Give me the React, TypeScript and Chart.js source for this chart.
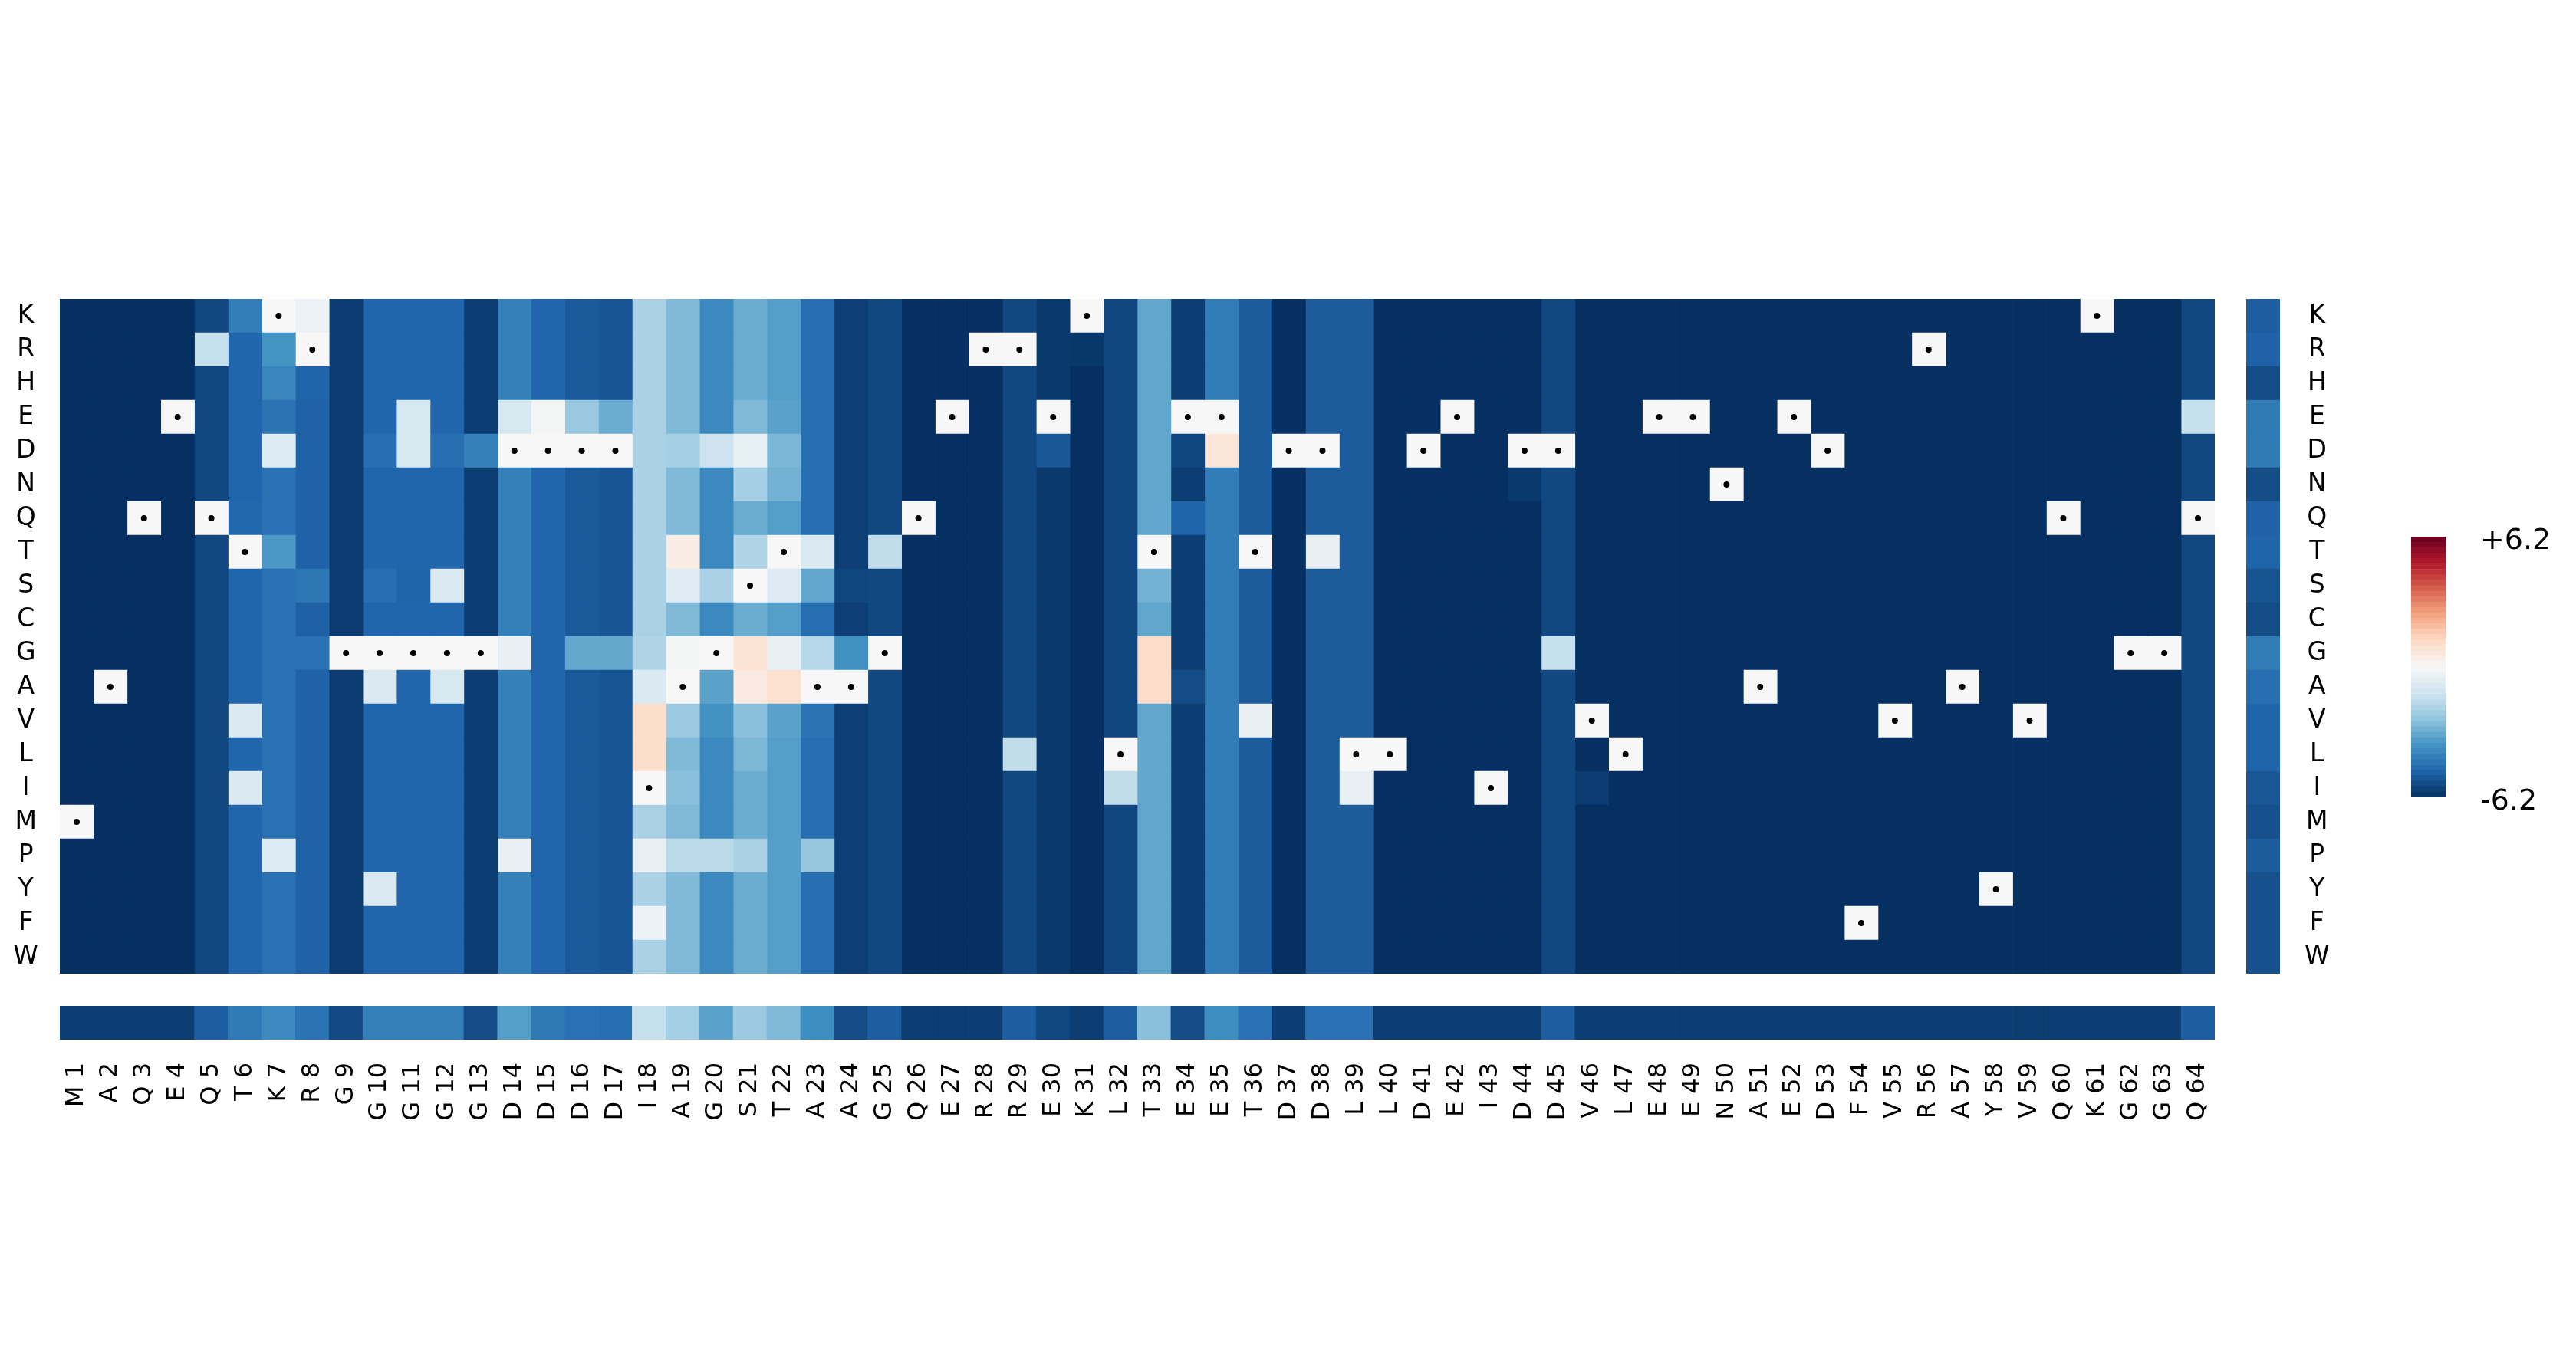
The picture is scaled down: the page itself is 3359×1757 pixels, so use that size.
import React, { useEffect, useRef } from 'react';
import { Chart, registerables } from 'chart.js';

Chart.register(...registerables);

// ---------- data ----------
const aminoAcids = ['K', 'R', 'H', 'E', 'D', 'N', 'Q', 'T', 'S', 'C', 'G', 'A', 'V', 'L', 'I', 'M', 'P', 'Y', 'F', 'W'];

const wildType = [
  'M', 'A', 'Q', 'E', 'Q', 'T', 'K', 'R', 'G', 'G', 'G', 'G', 'G', 'D', 'D', 'D', 'D', 'I', 'A', 'G',
  'S', 'T', 'A', 'A', 'G', 'Q', 'E', 'R', 'R', 'E', 'K', 'L', 'T', 'E', 'E', 'T', 'D', 'D', 'L', 'L',
  'D', 'E', 'I', 'D', 'D', 'V', 'L', 'E', 'E', 'N', 'A', 'E', 'D', 'F', 'V', 'R', 'A', 'Y', 'V', 'Q',
  'K', 'G', 'G', 'Q',
];

// scores per position, rows in aminoAcids order: K R H E D N Q T S C G A V L I M P Y F W
const s01 = [-6.2, -6.2, -6.2, -6.2, -6.2, -6.2, -6.2, -6.2, -6.2, -6.2, -6.2, -6.2, -6.2, -6.2, -6.2, 0, -6.2, -6.2, -6.2, -6.2];
const s02 = [-6.2, -6.2, -6.2, -6.2, -6.2, -6.2, -6.2, -6.2, -6.2, -6.2, -6.2, 0, -6.2, -6.2, -6.2, -6.2, -6.2, -6.2, -6.2, -6.2];
const s03 = [-6.2, -6.2, -6.2, -6.2, -6.2, -6.2, 0, -6.2, -6.2, -6.2, -6.2, -6.2, -6.2, -6.2, -6.2, -6.2, -6.2, -6.2, -6.2, -6.2];
const s04 = [-6.2, -6.2, -6.2, 0, -6.2, -6.2, -6.2, -6.2, -6.2, -6.2, -6.2, -6.2, -6.2, -6.2, -6.2, -6.2, -6.2, -6.2, -6.2, -6.2];
const s05 = [-5.65, -1.45, -5.65, -5.65, -5.65, -5.65, 0, -5.65, -5.65, -5.65, -5.65, -5.65, -5.65, -5.65, -5.65, -5.65, -5.65, -5.65, -5.65, -5.65];
const s06 = [-4.3, -4.95, -4.95, -4.95, -4.95, -4.95, -4.9, 0, -4.95, -4.95, -4.95, -4.95, -0.9, -4.95, -0.9, -4.95, -4.95, -4.95, -4.95, -4.95];
const s07 = [0, -3.7, -4.1, -4.6, -0.85, -4.65, -4.65, -3.6, -4.65, -4.65, -4.65, -4.65, -4.65, -4.65, -4.65, -4.65, -0.85, -4.65, -4.65, -4.65];
const s08 = [-0.35, 0, -5.0, -5.05, -5.05, -5.05, -5.05, -5.05, -4.5, -5.1, -4.65, -5.05, -5.05, -5.05, -5.05, -5.05, -5.05, -5.05, -5.05, -5.05];
const s09 = [-5.95, -5.95, -5.95, -5.95, -5.95, -5.95, -5.95, -5.95, -5.95, -5.95, 0, -5.95, -5.95, -5.95, -5.95, -5.95, -5.95, -5.95, -5.95, -5.95];
const s10 = [-4.95, -4.95, -4.95, -4.95, -4.7, -4.95, -4.95, -4.95, -4.7, -4.95, 0, -0.95, -4.95, -4.95, -4.95, -4.95, -4.95, -0.9, -4.95, -4.95];
const s11 = [-4.95, -4.95, -4.95, -1.05, -1.05, -4.95, -4.95, -4.95, -5.0, -4.95, 0, -4.95, -4.95, -4.95, -4.95, -4.95, -4.95, -4.95, -4.95, -4.95];
const s12 = [-4.95, -4.95, -4.95, -4.95, -4.7, -4.95, -4.95, -4.95, -0.95, -4.95, 0, -1.0, -4.95, -4.95, -4.95, -4.95, -4.95, -4.95, -4.95, -4.95];
const s13 = [-5.9, -5.9, -5.9, -5.9, -4.25, -5.9, -5.9, -5.9, -5.9, -5.9, 0, -5.9, -5.9, -5.9, -5.9, -5.9, -5.9, -5.9, -5.9, -5.9];
const s14 = [-4.25, -4.25, -4.25, -1.05, 0, -4.25, -4.25, -4.25, -4.25, -4.25, -0.5, -4.25, -4.25, -4.25, -4.25, -4.25, -0.45, -4.25, -4.25, -4.25];
const s15 = [-4.95, -4.95, -4.95, -0.1, 0, -4.95, -4.95, -4.95, -4.95, -4.95, -4.95, -4.95, -4.95, -4.95, -4.95, -4.95, -4.95, -4.95, -4.95, -4.95];
const s16 = [-5.25, -5.25, -5.25, -2.35, 0, -5.25, -5.25, -5.25, -5.25, -5.25, -3.2, -5.25, -5.25, -5.25, -5.25, -5.25, -5.25, -5.25, -5.25, -5.25];
const s17 = [-5.35, -5.35, -5.35, -3.1, 0, -5.35, -5.35, -5.35, -5.35, -5.35, -3.2, -5.35, -5.35, -5.35, -5.35, -5.35, -5.35, -5.35, -5.35, -5.35];
const s18 = [-2.0, -2.0, -2.0, -2.0, -2.0, -2.0, -2.0, -2.0, -2.0, -2.0, -1.9, -0.9, 1.1, 1.1, 0, -2.0, -0.45, -2.0, -0.35, -2.0];
const s19 = [-2.75, -2.75, -2.75, -2.75, -2.1, -2.75, -2.75, 0.5, -0.75, -2.75, -0.1, 0, -2.3, -2.75, -2.6, -2.75, -1.7, -2.75, -2.75, -2.75];
const s20 = [-4.0, -4.0, -4.0, -4.0, -1.3, -4.0, -4.0, -4.0, -2.0, -4.0, 0, -3.35, -3.75, -4.0, -4.0, -4.0, -1.7, -4.0, -4.0, -4.0];
const s21 = [-3.1, -3.1, -3.1, -2.75, -0.55, -2.1, -3.1, -1.9, 0, -3.1, 0.85, 0.6, -2.6, -2.8, -3.1, -3.1, -2.0, -3.1, -3.1, -3.1];
const s22 = [-3.45, -3.45, -3.45, -3.35, -2.85, -2.95, -3.45, 0, -0.8, -3.45, -0.45, 1.0, -3.35, -3.45, -3.45, -3.45, -3.45, -3.45, -3.45, -3.45];
const s23 = [-4.7, -4.7, -4.7, -4.7, -4.7, -4.7, -4.7, -0.95, -3.25, -4.75, -1.8, 0, -4.6, -4.7, -4.7, -4.7, -2.4, -4.7, -4.7, -4.7];
const s24 = [-5.85, -5.85, -5.85, -5.85, -5.85, -5.85, -5.85, -5.85, -5.7, -5.85, -3.8, 0, -5.85, -5.85, -5.85, -5.85, -5.85, -5.85, -5.85, -5.85];
const s25 = [-5.65, -5.65, -5.65, -5.65, -5.65, -5.65, -5.65, -1.55, -5.65, -5.65, 0, -5.65, -5.65, -5.65, -5.65, -5.65, -5.65, -5.65, -5.65, -5.65];
const s26 = [-6.2, -6.2, -6.2, -6.2, -6.2, -6.2, 0, -6.2, -6.2, -6.2, -6.2, -6.2, -6.2, -6.2, -6.2, -6.2, -6.2, -6.2, -6.2, -6.2];
const s27 = [-6.2, -6.2, -6.2, 0, -6.2, -6.2, -6.2, -6.2, -6.2, -6.2, -6.2, -6.2, -6.2, -6.2, -6.2, -6.2, -6.2, -6.2, -6.2, -6.2];
const s28 = [-6.2, 0, -6.2, -6.2, -6.2, -6.2, -6.2, -6.2, -6.2, -6.2, -6.2, -6.2, -6.2, -6.2, -6.2, -6.2, -6.2, -6.2, -6.2, -6.2];
const s29 = [-5.65, 0, -5.65, -5.65, -5.65, -5.65, -5.65, -5.65, -5.65, -5.65, -5.65, -5.65, -5.65, -1.55, -5.65, -5.65, -5.65, -5.65, -5.65, -5.65];
const s30 = [-6.0, -6.0, -6.0, 0, -5.3, -6.0, -6.0, -6.0, -6.0, -6.0, -6.0, -6.0, -6.0, -6.0, -6.0, -6.0, -6.0, -6.0, -6.0, -6.0];
const s31 = [0, -6.05, -6.2, -6.2, -6.2, -6.2, -6.2, -6.2, -6.2, -6.2, -6.2, -6.2, -6.2, -6.2, -6.2, -6.2, -6.2, -6.2, -6.2, -6.2];
const s32 = [-5.7, -5.7, -5.7, -5.7, -5.7, -5.7, -5.7, -5.7, -5.7, -5.7, -5.7, -5.7, -5.7, 0, -1.55, -5.7, -5.7, -5.7, -5.7, -5.7];
const s33 = [-3.25, -3.25, -3.25, -3.25, -3.25, -3.25, -3.25, 0, -2.95, -3.25, 1.2, 1.2, -3.25, -3.25, -3.25, -3.25, -3.25, -3.25, -3.25, -3.25];
const s34 = [-5.9, -5.9, -5.9, 0, -5.7, -5.9, -5.0, -5.9, -5.9, -5.9, -5.9, -5.55, -5.9, -5.9, -5.9, -5.9, -5.9, -5.9, -5.9, -5.9];
const s35 = [-4.35, -4.35, -4.35, 0, 0.8, -4.35, -4.35, -4.35, -4.35, -4.35, -4.35, -4.35, -4.35, -4.35, -4.35, -4.35, -4.35, -4.35, -4.35, -4.35];
const s36 = [-5.2, -5.2, -5.2, -5.2, -5.2, -5.2, -5.2, 0, -5.2, -5.2, -5.2, -5.2, -0.5, -5.2, -5.2, -5.2, -5.2, -5.2, -5.2, -5.2];
const s37 = [-6.2, -6.2, -6.2, -6.2, 0, -6.2, -6.2, -6.2, -6.2, -6.2, -6.2, -6.2, -6.2, -6.2, -6.2, -6.2, -6.2, -6.2, -6.2, -6.2];
const s38 = [-5.2, -5.2, -5.2, -5.2, 0, -5.2, -5.2, -0.5, -5.2, -5.2, -5.2, -5.2, -5.2, -5.2, -5.2, -5.2, -5.2, -5.2, -5.2, -5.2];
const s39 = [-5.2, -5.2, -5.2, -5.2, -5.2, -5.2, -5.2, -5.2, -5.2, -5.2, -5.2, -5.2, -5.2, 0, -0.5, -5.2, -5.2, -5.2, -5.2, -5.2];
const s40 = [-6.2, -6.2, -6.2, -6.2, -6.2, -6.2, -6.2, -6.2, -6.2, -6.2, -6.2, -6.2, -6.2, 0, -6.2, -6.2, -6.2, -6.2, -6.2, -6.2];
const s41 = [-6.2, -6.2, -6.2, -6.2, 0, -6.2, -6.2, -6.2, -6.2, -6.2, -6.2, -6.2, -6.2, -6.2, -6.2, -6.2, -6.2, -6.2, -6.2, -6.2];
const s42 = [-6.2, -6.2, -6.2, 0, -6.2, -6.2, -6.2, -6.2, -6.2, -6.2, -6.2, -6.2, -6.2, -6.2, -6.2, -6.2, -6.2, -6.2, -6.2, -6.2];
const s43 = [-6.2, -6.2, -6.2, -6.2, -6.2, -6.2, -6.2, -6.2, -6.2, -6.2, -6.2, -6.2, -6.2, -6.2, 0, -6.2, -6.2, -6.2, -6.2, -6.2];
const s44 = [-6.2, -6.2, -6.2, -6.2, 0, -6.0, -6.2, -6.2, -6.2, -6.2, -6.2, -6.2, -6.2, -6.2, -6.2, -6.2, -6.2, -6.2, -6.2, -6.2];
const s45 = [-5.65, -5.65, -5.65, -5.65, 0, -5.65, -5.65, -5.65, -5.65, -5.65, -1.45, -5.65, -5.65, -5.65, -5.65, -5.65, -5.65, -5.65, -5.65, -5.65];
const s46 = [-6.2, -6.2, -6.2, -6.2, -6.2, -6.2, -6.2, -6.2, -6.2, -6.2, -6.2, -6.2, 0, -6.2, -5.95, -6.2, -6.2, -6.2, -6.2, -6.2];
const s47 = [-6.2, -6.2, -6.2, -6.2, -6.2, -6.2, -6.2, -6.2, -6.2, -6.2, -6.2, -6.2, -6.2, 0, -6.2, -6.2, -6.2, -6.2, -6.2, -6.2];
const s48 = [-6.2, -6.2, -6.2, 0, -6.2, -6.2, -6.2, -6.2, -6.2, -6.2, -6.2, -6.2, -6.2, -6.2, -6.2, -6.2, -6.2, -6.2, -6.2, -6.2];
const s49 = [-6.2, -6.2, -6.2, 0, -6.2, -6.2, -6.2, -6.2, -6.2, -6.2, -6.2, -6.2, -6.2, -6.2, -6.2, -6.2, -6.2, -6.2, -6.2, -6.2];
const s50 = [-6.2, -6.2, -6.2, -6.2, -6.2, 0, -6.2, -6.2, -6.2, -6.2, -6.2, -6.2, -6.2, -6.2, -6.2, -6.2, -6.2, -6.2, -6.2, -6.2];
const s51 = [-6.2, -6.2, -6.2, -6.2, -6.2, -6.2, -6.2, -6.2, -6.2, -6.2, -6.2, 0, -6.2, -6.2, -6.2, -6.2, -6.2, -6.2, -6.2, -6.2];
const s52 = [-6.2, -6.2, -6.2, 0, -6.2, -6.2, -6.2, -6.2, -6.2, -6.2, -6.2, -6.2, -6.2, -6.2, -6.2, -6.2, -6.2, -6.2, -6.2, -6.2];
const s53 = [-6.2, -6.2, -6.2, -6.2, 0, -6.2, -6.2, -6.2, -6.2, -6.2, -6.2, -6.2, -6.2, -6.2, -6.2, -6.2, -6.2, -6.2, -6.2, -6.2];
const s54 = [-6.2, -6.2, -6.2, -6.2, -6.2, -6.2, -6.2, -6.2, -6.2, -6.2, -6.2, -6.2, -6.2, -6.2, -6.2, -6.2, -6.2, -6.2, 0, -6.2];
const s55 = [-6.2, -6.2, -6.2, -6.2, -6.2, -6.2, -6.2, -6.2, -6.2, -6.2, -6.2, -6.2, 0, -6.2, -6.2, -6.2, -6.2, -6.2, -6.2, -6.2];
const s56 = [-6.2, 0, -6.2, -6.2, -6.2, -6.2, -6.2, -6.2, -6.2, -6.2, -6.2, -6.2, -6.2, -6.2, -6.2, -6.2, -6.2, -6.2, -6.2, -6.2];
const s57 = [-6.2, -6.2, -6.2, -6.2, -6.2, -6.2, -6.2, -6.2, -6.2, -6.2, -6.2, 0, -6.2, -6.2, -6.2, -6.2, -6.2, -6.2, -6.2, -6.2];
const s58 = [-6.2, -6.2, -6.2, -6.2, -6.2, -6.2, -6.2, -6.2, -6.2, -6.2, -6.2, -6.2, -6.2, -6.2, -6.2, -6.2, -6.2, 0, -6.2, -6.2];
const s59 = [-6.2, -6.2, -6.2, -6.2, -6.2, -6.2, -6.2, -6.2, -6.2, -6.2, -6.2, -6.2, 0, -6.2, -6.2, -6.2, -6.2, -6.2, -6.2, -6.2];
const s60 = [-6.2, -6.2, -6.2, -6.2, -6.2, -6.2, 0, -6.2, -6.2, -6.2, -6.2, -6.2, -6.2, -6.2, -6.2, -6.2, -6.2, -6.2, -6.2, -6.2];
const s61 = [0, -6.2, -6.2, -6.2, -6.2, -6.2, -6.2, -6.2, -6.2, -6.2, -6.2, -6.2, -6.2, -6.2, -6.2, -6.2, -6.2, -6.2, -6.2, -6.2];
const s62 = [-6.2, -6.2, -6.2, -6.2, -6.2, -6.2, -6.2, -6.2, -6.2, -6.2, 0, -6.2, -6.2, -6.2, -6.2, -6.2, -6.2, -6.2, -6.2, -6.2];
const s63 = [-6.2, -6.2, -6.2, -6.2, -6.2, -6.2, -6.2, -6.2, -6.2, -6.2, 0, -6.2, -6.2, -6.2, -6.2, -6.2, -6.2, -6.2, -6.2, -6.2];
const s64 = [-5.65, -5.65, -5.65, -1.45, -5.65, -5.65, 0, -5.65, -5.65, -5.65, -5.65, -5.65, -5.65, -5.65, -5.65, -5.65, -5.65, -5.65, -5.65, -5.65];

const positionScores = [
  s01, s02, s03, s04, s05, s06, s07, s08, s09, s10, s11, s12, s13, s14, s15, s16,
  s17, s18, s19, s20, s21, s22, s23, s24, s25, s26, s27, s28, s29, s30, s31, s32,
  s33, s34, s35, s36, s37, s38, s39, s40, s41, s42, s43, s44, s45, s46, s47, s48,
  s49, s50, s51, s52, s53, s54, s55, s56, s57, s58, s59, s60, s61, s62, s63, s64,
];

// mean per position (bottom strip)
const positionMeans = [
  -5.9, -5.9, -5.9, -5.9, -5.15, -4.4, -4.0, -4.6, -5.6, -4.25, -4.25, -4.25, -5.55, -3.45, -4.45, -4.65,
  -4.7, -1.45, -2.1, -3.35, -2.3, -2.75, -3.85, -5.55, -5.15, -5.9, -5.9, -5.9, -5.15, -5.65, -5.9, -5.15,
  -2.6, -5.55, -3.85, -4.65, -5.9, -4.65, -4.65, -5.9, -5.9, -5.9, -5.9, -5.9, -5.15, -5.9, -5.9, -5.9,
  -5.9, -5.9, -5.9, -5.9, -5.9, -5.9, -5.9, -5.9, -5.9, -5.9, -5.9, -5.9, -5.9, -5.9, -5.9, -5.15,
];

// mean per amino acid (right strip)
const aminoAcidMeans = [-5.15, -5.05, -5.55, -4.4, -4.4, -5.55, -5.05, -5.0, -5.4, -5.55, -4.35, -4.7, -5.0, -5.0, -5.3, -5.45, -5.2, -5.45, -5.45, -5.45];

const colorMin = -6.2;
const colorMax = 6.2;
const colorbarTickLabels = ['-6.2', '+6.2'];

// ---------- colour map (RdBu reversed) ----------
const RDBU_R = [
  [5, 48, 97], [33, 102, 172], [67, 147, 195], [146, 197, 222], [209, 229, 240], [247, 247, 247],
  [253, 219, 199], [244, 165, 130], [214, 96, 77], [178, 24, 43], [103, 0, 31],
];
function rdbu(v: number): string {
  let t = (v - colorMin) / (colorMax - colorMin);
  t = Math.max(0, Math.min(1, t)) * (RDBU_R.length - 1);
  const k = Math.min(RDBU_R.length - 2, Math.floor(t));
  const f = t - k;
  const a = RDBU_R[k];
  const b = RDBU_R[k + 1];
  const c = a.map((x, i) => Math.round(x + (b[i] - x) * f));
  return `rgb(${c[0]},${c[1]},${c[2]})`;
}

const FONT = "'DejaVu Sans', sans-serif";
const noPlugins = { legend: { display: false }, tooltip: { enabled: false } };

export default function App() {
  const mainRef = useRef<HTMLCanvasElement>(null);
  const bottomRef = useRef<HTMLCanvasElement>(null);
  const sideRef = useRef<HTMLCanvasElement>(null);
  const barRef = useRef<HTMLCanvasElement>(null);

  useEffect(() => {
    Chart.defaults.font.family = FONT;
    const charts: any[] = [];
    const positionLabels = wildType.map((aa, i) => `${aa} ${i + 1}`);

    // main heatmap
    charts.push(
      new Chart(mainRef.current as any, {
        type: 'bar',
        data: {
          labels: aminoAcids,
          datasets: [
            {
              type: 'scatter',
              data: wildType.map((aa, i) => ({ x: i + 0.5, y: aa })),
              pointRadius: 4,
              pointBackgroundColor: '#000',
              pointBorderWidth: 0,
              order: 0,
            } as any,
            ...positionScores.map((col, i) => ({
              type: 'bar',
              data: col.map(() => [i, i + 1]),
              backgroundColor: col.map(rdbu),
              grouped: false,
              barPercentage: 1,
              categoryPercentage: 1,
              borderWidth: 0,
              order: 1,
            })),
          ],
        } as any,
        options: {
          indexAxis: 'y',
          responsive: false,
          animation: false,
          events: [],
          layout: { padding: { left: 0, right: 10, top: 60, bottom: 60 } },
          plugins: noPlugins,
          scales: {
            x: { type: 'linear', min: 0, max: 64, display: false },
            y: {
              type: 'category',
              offset: true,
              grid: { display: false },
              border: { display: false },
              ticks: { font: { size: 33 }, color: '#000', padding: 20, crossAlign: 'center' },
              afterFit: (s: any) => { s.width = 78; },
            },
          },
        } as any,
      })
    );

    // bottom strip with position labels
    charts.push(
      new Chart(bottomRef.current as any, {
        type: 'bar',
        data: {
          labels: positionLabels,
          datasets: [
            {
              data: positionMeans.map(() => [0, 1]),
              backgroundColor: positionMeans.map(rdbu),
              barPercentage: 1,
              categoryPercentage: 1,
              borderWidth: 0,
            },
          ],
        } as any,
        options: {
          responsive: false,
          animation: false,
          events: [],
          layout: { padding: { left: 78, right: 50, top: 10, bottom: 0 } },
          plugins: noPlugins,
          scales: {
            x: {
              grid: { display: false },
              border: { display: false },
              ticks: { autoSkip: false, minRotation: 90, maxRotation: 90, font: { size: 32 }, color: '#000', padding: 22 },
              afterFit: (s: any) => { s.height = 144; },
            },
            y: { min: 0, max: 1, display: false },
          },
        } as any,
      })
    );

    // right strip with amino acid labels
    charts.push(
      new Chart(sideRef.current as any, {
        type: 'bar',
        data: {
          labels: aminoAcids,
          datasets: [
            {
              data: aminoAcidMeans.map(() => [0, 1]),
              backgroundColor: aminoAcidMeans.map(rdbu),
              barPercentage: 1,
              categoryPercentage: 1,
              borderWidth: 0,
            },
          ],
        } as any,
        options: {
          indexAxis: 'y',
          responsive: false,
          animation: false,
          events: [],
          layout: { padding: { left: 0, right: 0, top: 60, bottom: 60 } },
          plugins: noPlugins,
          scales: {
            x: { min: 0, max: 1, display: false },
            y: {
              position: 'right',
              offset: true,
              grid: { display: false },
              border: { display: false },
              ticks: { font: { size: 33 }, color: '#000', padding: 24, crossAlign: 'center' },
              afterFit: (s: any) => { s.width = 156; },
            },
          },
        } as any,
      })
    );

    // colour bar
    const nBands = 48;
    const step = (colorMax - colorMin) / nBands;
    const bands = Array.from({ length: nBands }, (_, k) => [colorMin + k * step, colorMin + (k + 1) * step]);
    charts.push(
      new Chart(barRef.current as any, {
        type: 'bar',
        data: {
          labels: [''],
          datasets: bands.map((b) => ({
            data: [b],
            backgroundColor: rdbu((b[0] + b[1]) / 2),
            grouped: false,
            barPercentage: 1,
            categoryPercentage: 1,
            borderWidth: 0,
          })),
        } as any,
        options: {
          responsive: false,
          animation: false,
          events: [],
          layout: { padding: { left: 0, right: 0, top: 80, bottom: 80 } },
          plugins: noPlugins,
          scales: {
            x: { display: false },
            y: {
              type: 'linear',
              min: colorMin,
              max: colorMax,
              position: 'right',
              grid: { display: false },
              border: { display: false },
              afterBuildTicks: (s: any) => { s.ticks = [{ value: colorMin }, { value: colorMax }]; },
              ticks: {
                callback: (v: any) => (v > 0 ? colorbarTickLabels[1] : colorbarTickLabels[0]),
                font: { size: 38 },
                color: '#000',
                padding: 37,
                labelOffset: 6,
                crossAlign: 'near',
              },
              afterFit: (s: any) => { s.width = 170; },
            },
          },
        } as any,
      })
    );

    return () => charts.forEach((c) => c.destroy());
  }, []);

  const abs = (left: number, top: number, width: number, height: number) => ({
    position: 'absolute' as const, left, top, width, height,
  });

  return (
    <div style={{ position: 'absolute', left: 0, top: 0, width: 3359, height: 1757, background: '#fff', overflow: 'hidden' }}>
      <canvas ref={mainRef} width={2898} height={1000} style={abs(0, 330, 2898, 1000)} />
      <canvas ref={bottomRef} width={2938} height={198} style={abs(0, 1302, 2938, 198)} />
      <canvas ref={sideRef} width={200} height={1000} style={abs(2929, 330, 200, 1000)} />
      <canvas ref={barRef} width={215} height={500} style={abs(3144, 620, 215, 500)} />
    </div>
  );
}
